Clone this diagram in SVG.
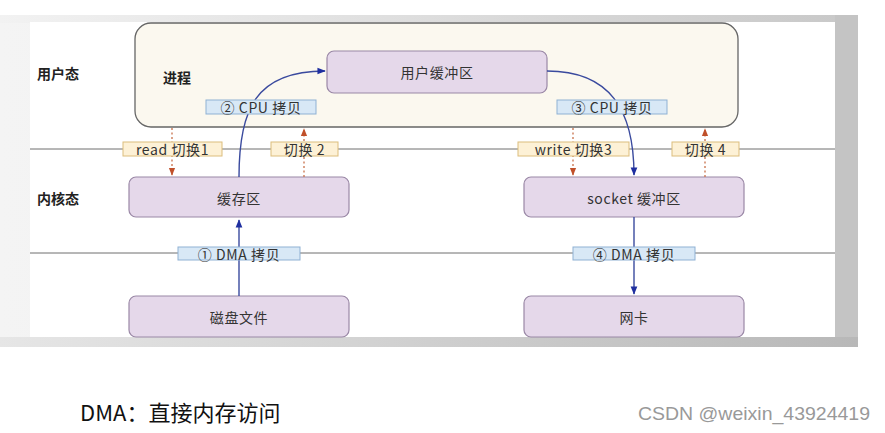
<svg xmlns="http://www.w3.org/2000/svg" width="885" height="433" viewBox="0 0 885 433">
<style>
.lbl{font-family:"Noto Sans CJK SC","Noto Sans",sans-serif;font-size:14px;fill:#333;text-anchor:middle;dominant-baseline:central;letter-spacing:0.6px}
.zone{font-family:"Noto Sans CJK SC","Noto Sans",sans-serif;font-size:14px;font-weight:bold;fill:#222;dominant-baseline:central}
.box{fill:#e5d8ea;stroke:#9a88a6;stroke-width:1.2}
.blue{fill:#d8e8f6;stroke:#8fb1d4;stroke-width:1}
.yel{fill:#fdf1d6;stroke:#dcbd7c;stroke-width:1}
.flow{fill:none;stroke:#3a4a9e;stroke-width:1.4}
.sw{fill:none;stroke:#c8704a;stroke-width:1.3;stroke-dasharray:2 2.5}
.sep{stroke:#6e6e6e;stroke-width:1}
</style>
<defs>
<linearGradient id="gl" x1="0" x2="1" y1="0" y2="0"><stop offset="0" stop-color="#f4f4f4"/><stop offset="1" stop-color="#e8e8e8"/></linearGradient>
<linearGradient id="gb" x1="0" x2="1" y1="0" y2="0"><stop offset="0" stop-color="#e6e6e6"/><stop offset="1" stop-color="#b8b8b8"/></linearGradient>
<linearGradient id="gt" x1="0" x2="1" y1="0" y2="0"><stop offset="0" stop-color="#f2f2f2"/><stop offset="1" stop-color="#c8c8c8"/></linearGradient>
<marker id="ab" viewBox="0 0 10 10" refX="9" refY="5" markerWidth="6" markerHeight="6" orient="auto"><path d="M0,1 L10,5 L0,9 Z" fill="#1f2fa0"/></marker>
<marker id="ar" viewBox="0 0 10 10" refX="9" refY="5" markerWidth="6" markerHeight="6" orient="auto"><path d="M0,1 L10,5 L0,9 Z" fill="#c0502a"/></marker>
</defs>
<rect width="885" height="433" fill="#fff"/>
<rect x="0" y="15" width="858" height="332" fill="url(#gl)"/>
<rect x="0" y="15" width="858" height="8" fill="url(#gt)"/>
<rect x="835" y="15" width="23" height="332" fill="#c4c4c4"/>
<rect x="0" y="337" width="858" height="10" fill="url(#gb)"/>
<rect x="30" y="22" width="805" height="315" fill="#fff"/>

<line class="sep" x1="30" y1="149" x2="835" y2="149"/>
<line class="sep" x1="30" y1="253" x2="835" y2="253"/>

<text class="zone" x="37" y="73">用户态</text>
<text class="zone" x="37" y="198">内核态</text>

<g id="process">
<rect x="135" y="23" width="603" height="104" rx="16" fill="#fbf8ef" stroke="#666" stroke-width="1.3"/>
<text class="zone" x="163" y="77">进程</text>
</g>
<g id="userbuf"><rect class="box" x="327" y="51" width="220" height="42" rx="7"/><text class="lbl" x="437" y="72">用户缓冲区</text></g>
<g id="cache"><rect class="box" x="129" y="177" width="220" height="40" rx="7"/><text class="lbl" x="239" y="198">缓存区</text></g>
<g id="socket"><rect class="box" x="524" y="177" width="220" height="40" rx="7"/><text class="lbl" x="634" y="198">socket 缓冲区</text></g>
<g id="disk"><rect class="box" x="129" y="296" width="220" height="41" rx="7"/><text class="lbl" x="239" y="317">磁盘文件</text></g>
<g id="nic"><rect class="box" x="524" y="296" width="220" height="41" rx="7"/><text class="lbl" x="634" y="317">网卡</text></g>

<g id="connectors">
<path class="flow" d="M239,296 L239,220" marker-end="url(#ab)"/>
<path class="flow" d="M239,177 C239,110 255,71 325,71" marker-end="url(#ab)"/>
<path class="flow" d="M547,71 C610,71 634,110 634,175" marker-end="url(#ab)"/>
<path class="flow" d="M634,217 L634,294" marker-end="url(#ab)"/>
<path class="sw" d="M172,128 L172,175" marker-end="url(#ar)"/>
<path class="sw" d="M304,177 L304,129" marker-end="url(#ar)"/>
<path class="sw" d="M573,128 L573,175" marker-end="url(#ar)"/>
<path class="sw" d="M705,177 L705,129" marker-end="url(#ar)"/>

<rect class="blue" x="206" y="100" width="110" height="14"/><text class="lbl" x="261" y="107">② CPU 拷贝</text>
<rect class="blue" x="557" y="100" width="110" height="14"/><text class="lbl" x="612" y="107">③ CPU 拷贝</text>
<rect class="blue" x="178" y="247" width="122" height="13"/><text class="lbl" x="239" y="253.5">① DMA 拷贝</text>
<rect class="blue" x="573" y="247" width="122" height="13"/><text class="lbl" x="634" y="253.5">④ DMA 拷贝</text>
<rect class="yel" x="123" y="142" width="99" height="14"/><text class="lbl" x="172.5" y="149">read 切换1</text>
<rect class="yel" x="271" y="142" width="67" height="14"/><text class="lbl" x="304.5" y="149">切换 2</text>
<rect class="yel" x="518" y="142" width="111" height="14"/><text class="lbl" x="573.5" y="149">write 切换3</text>
<rect class="yel" x="672" y="142" width="67" height="14"/><text class="lbl" x="705.5" y="149">切换 4</text>
</g>

<text x="80" y="421" font-family="'Noto Sans CJK SC',sans-serif" font-size="22" fill="#111">DMA：直接内存访问</text>
<text x="638" y="420" font-family="'Liberation Sans','Noto Sans',sans-serif" font-size="19" fill="#999" textLength="232" lengthAdjust="spacingAndGlyphs">CSDN @weixin_43924419</text>
</svg>
